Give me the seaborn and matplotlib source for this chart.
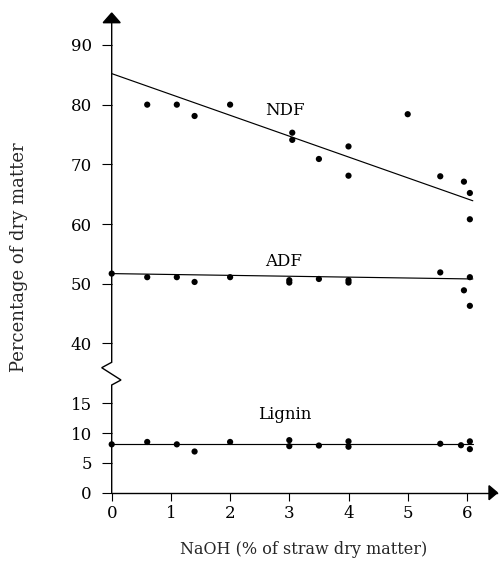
import numpy as np
import pandas as pd
import matplotlib
matplotlib.use("Agg")
import matplotlib.pyplot as plt
import seaborn as sns

# ---- data ----
ndf_x = [0.6, 1.1, 1.4, 2.0, 3.05, 3.05, 3.5, 4.0, 4.0, 5.0, 5.55, 5.95, 6.05, 6.05]
ndf_y = [80.0, 80.0, 78.1, 80.0, 75.3, 74.1, 70.9, 73.0, 68.1, 78.4, 68.0, 67.1, 65.2, 60.8]

adf_x = [0.0, 0.6, 1.1, 1.4, 2.0, 3.0, 3.0, 3.5, 4.0, 4.0, 5.55, 5.95, 6.05, 6.05]
adf_y = [51.7, 51.1, 51.1, 50.3, 51.1, 50.2, 50.6, 50.8, 50.2, 50.6, 51.9, 48.9, 51.1, 46.3]

lig_x = [0.0, 0.6, 1.1, 1.4, 2.0, 3.0, 3.0, 3.5, 4.0, 4.0, 5.55, 5.9, 6.05, 6.05]
lig_y = [8.1, 8.5, 8.1, 6.9, 8.5, 8.8, 7.8, 7.9, 8.6, 7.7, 8.2, 7.95, 8.6, 7.3]

fit_x = [0.0, 6.1]
ndf_fit = [85.2, 63.9]
adf_fit = [51.7, 50.8]
lig_fit = [8.1, 8.1]

labels = ["NDF", "ADF", "Lignin"]
label_x = [2.93, 2.9, 2.93]
label_y = [79.0, 53.8, 13.1]

x_ticks = [0, 1, 2, 3, 4, 5, 6]
y_ticks = [0, 5, 10, 15, 40, 50, 60, 70, 80, 90]

# ---- style ----
sns.set_style("ticks")
plt.rcParams["font.family"] = ["DejaVu Serif"]
FS = 12

W, H = 499, 562
fig = plt.figure(figsize=(W / 100, H / 100), dpi=100)
ax_left_px, ax_bot_px, ax_w_px, ax_h_px = 111.7, 69.3, 385.6, 479.7
ax = fig.add_axes([ax_left_px / W, ax_bot_px / H, ax_w_px / W, ax_h_px / H])


# broken y axis: 0-18 linear, 18-37 compressed, >=37 shifted by 15
def fwd(y):
    y = np.asarray(y, dtype=float)
    return np.where(y <= 18, y, np.where(y >= 37, y - 15, 18 + (y - 18) * 4 / 19))


def inv(t):
    t = np.asarray(t, dtype=float)
    return np.where(t <= 18, t, np.where(t >= 22, t + 15, 18 + (t - 18) * 19 / 4))


ax.set_yscale("function", functions=(fwd, inv))

pts = pd.DataFrame({
    "x": ndf_x + adf_x + lig_x,
    "y": ndf_y + adf_y + lig_y,
})
sns.scatterplot(data=pts, x="x", y="y", ax=ax, color="black", s=20,
                edgecolor="none", linewidth=0, clip_on=False, zorder=3)

for fy in (ndf_fit, adf_fit, lig_fit):
    sns.lineplot(x=fit_x, y=fy, ax=ax, color="black", linewidth=0.85, zorder=2)

for lab, lx, ly in zip(labels, label_x, label_y):
    ax.text(lx, ly, lab, ha="center", va="center", fontsize=FS, color="black")

t_top = ax_h_px / 5.97
ax.set_xlim(0, ax_w_px / 59.2)
ax.set_ylim(0, t_top + 15)
ax.set_xticks(x_ticks)
ax.set_yticks(y_ticks)
ax.set_xticklabels([str(v) for v in x_ticks], fontsize=FS)
ax.set_yticklabels([str(v) for v in y_ticks], fontsize=FS)
ax.minorticks_off()
ax.tick_params(axis="y", direction="out", length=7.2, width=0.8, pad=7, colors="black")
ax.tick_params(axis="x", direction="out", length=6, width=0.8, pad=3, colors="black")

for s in ("top", "right", "left"):
    ax.spines[s].set_visible(False)
ax.spines["bottom"].set_linewidth(1.0)
ax.spines["bottom"].set_color("black")


def fy_px(py):
    return (492.7 - py) / ax_h_px


# left axis line with zig-zag break (axes coordinates)
lx_pts = [0, 0, 9.3 / ax_w_px, -10 / ax_w_px, 0, 0]
ly_pts = [0, fy_px(385), fy_px(380), fy_px(367.7), fy_px(362.3), fy_px(20)]
ax.plot(lx_pts, ly_pts, color="black", linewidth=1.0, transform=ax.transAxes,
        clip_on=False, zorder=4, solid_joinstyle="miter")

# arrow heads
up = plt.Polygon([(-8.5 / ax_w_px, fy_px(22.7)), (8.5 / ax_w_px, fy_px(22.7)), (0, fy_px(13))],
                 closed=True, color="black", transform=ax.transAxes, clip_on=False, zorder=5)
right = plt.Polygon([((489 - ax_left_px) / ax_w_px, 7 / ax_h_px), ((489 - ax_left_px) / ax_w_px, -7 / ax_h_px),
                     (1.0, 0)], closed=True, color="black", transform=ax.transAxes, clip_on=False, zorder=5)
ax.add_patch(up)
ax.add_patch(right)

ax.set_xlabel("NaOH (% of straw dry matter)", fontsize=11.5)
ax.set_ylabel("Percentage of dry matter", fontsize=13)
ax.xaxis.set_label_coords((304 - ax_left_px) / ax_w_px, -(541 - 492.7) / ax_h_px)
ax.yaxis.set_label_coords(-(111.7 - 28) / ax_w_px, fy_px(257))

fig.savefig("out.png", dpi=100)
